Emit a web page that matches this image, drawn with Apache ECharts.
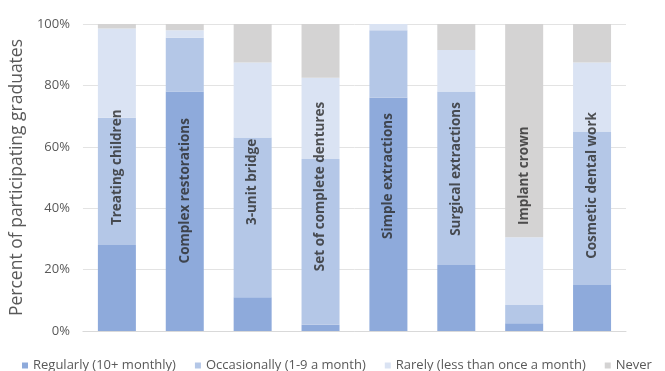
<!DOCTYPE html>
<html>
<head>
<meta charset="utf-8">
<script src="https://cdn.jsdelivr.net/npm/echarts@6/dist/echarts.min.js"></script>
<style>
  html, body { margin: 0; padding: 0; background: #fff; }
  #barChart { width: 665px; height: 371px; }
</style>
</head>
<body>
<div id="barChart"></div>
<script>
// procedures surveyed
var categories = ["Treating children", "Complex restorations", "3-unit bridge", "Set of complete dentures",
  "Simple extractions", "Surgical extractions", "Implant crown", "Cosmetic dental work"];
// percent of graduates per frequency
var regularly = [28, 78, 11, 2, 76, 21.5, 2.5, 15];
var occasionally = [41.5, 17.5, 52, 54, 22, 56.5, 6, 50];
var rarely = [29, 2.5, 24.5, 26.5, 2, 13.5, 22, 22.5];
var never = [1.5, 2, 12.5, 17.5, 0, 8.5, 69.5, 12.5];
// where the name label starts inside each bar (percent)
var labelStart = [34.5, 22, 34.5, 19.5, 30, 31, 34.5, 23.5];
var yTicks = [0, 20, 40, 60, 80, 100];

var font = "'Open Sans', sans-serif";

function barSeries(name, data, color) {
  return {
    name: name,
    type: "bar",
    stack: "total",
    barWidth: 38,
    itemStyle: { color: color },
    data: data
  };
}

var option = {
  animation: false,
  textStyle: { fontFamily: font },
  grid: { left: 81, right: 39, top: 24, bottom: 40 },
  legend: {
    left: 17,
    top: 354,
    width: 900,
    itemWidth: 6,
    itemHeight: 6,
    itemGap: 19,
    icon: "rect",
    textStyle: { fontSize: 13, color: "#595959", fontFamily: font },
    data: ["Regularly (10+ monthly)", "Occasionally (1-9 a month)", "Rarely (less than once a month)", "Never"]
  },
  xAxis: {
    type: "category",
    data: categories,
    axisLabel: { show: false },
    axisTick: { show: false },
    axisLine: { lineStyle: { color: "#d9d9d9" } }
  },
  yAxis: {
    type: "value",
    min: yTicks[0],
    max: yTicks[yTicks.length - 1],
    interval: 20,
    name: "Percent of participating graduates",
    nameLocation: "middle",
    nameGap: 36,
    nameTextStyle: { fontSize: 17.5, color: "#595959", fontFamily: font },
    axisLabel: { formatter: "{value}%", fontSize: 13, color: "#595959", margin: 13 },
    axisLine: { show: false },
    axisTick: { show: false },
    splitLine: { lineStyle: { color: "#e3e3e3" } }
  },
  series: [
    barSeries("Regularly (10+ monthly)", regularly, "#8eaadb"),
    barSeries("Occasionally (1-9 a month)", occasionally, "#b4c7e7"),
    barSeries("Rarely (less than once a month)", rarely, "#dae3f3"),
    barSeries("Never", never, "#d4d3d3"),
    {
      type: "scatter",
      symbolSize: 0,
      silent: true,
      z: 10,
      data: categories.map(function (c, i) { return [c, labelStart[i]]; }),
      label: {
        show: true,
        position: "inside",
        rotate: 90,
        align: "left",
        verticalAlign: "middle",
        fontSize: 13.5,
        fontWeight: "bold",
        color: "#2b2b2b",
        fontFamily: font,
        formatter: function (p) { return p.value[0]; }
      }
    }
  ]
};

var myChart = echarts.init(document.getElementById("barChart"));
myChart.setOption(option);
</script>
</body>
</html>
